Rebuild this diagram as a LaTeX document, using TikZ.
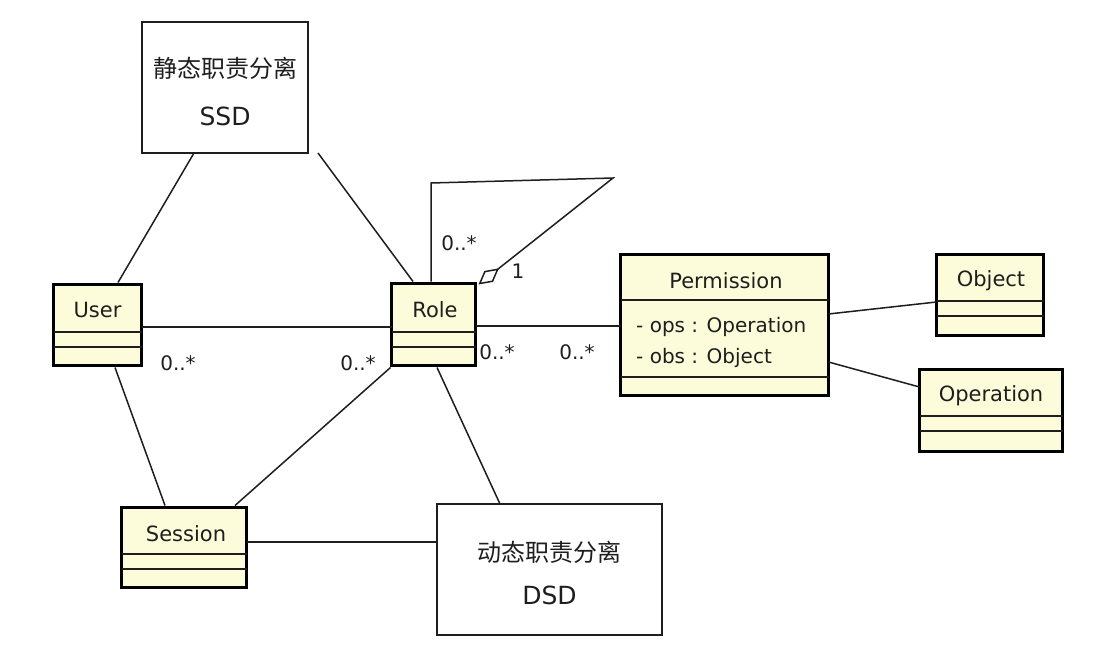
\documentclass[tikz,border=0pt]{standalone}
\usepackage{fontspec}
\setmainfont{DejaVu Sans}
\newfontfamily\cjk{Noto Sans CJK SC}
\usetikzlibrary{arrows.meta,calc}
\definecolor{clsfill}{RGB}{253,252,218}
\definecolor{ink}{RGB}{30,30,30}
\begin{document}
\begin{tikzpicture}[x=1pt,y=-1pt,
  classbox/.style={draw=black, line width=3.5pt, fill=clsfill, inner sep=0pt, outer sep=0pt},
  notebox/.style={draw=ink, line width=1.8pt, fill=white, inner sep=0pt, outer sep=0pt},
  conn/.style={line width=1.5pt, draw=ink},
  sepline/.style={line width=1.5pt, draw=ink},
  mult/.style={font=\fontsize{20}{20}\selectfont, text=ink, inner sep=0pt},
  cname/.style={font=\fontsize{21}{21}\selectfont, text=ink, inner sep=0pt},
  attr/.style={font=\fontsize{20}{20}\selectfont, text=ink, inner sep=0pt, anchor=west},
  cjktext/.style={font=\cjk\fontsize{24}{24}\selectfont, text=ink, inner sep=0pt},
  abbr/.style={font=\fontsize{25}{25}\selectfont, text=ink, inner sep=0pt}]
\useasboundingbox (0,0) rectangle (1110,666);

% note boxes
\node[notebox, minimum width=166, minimum height=131] (ssd) at (225,87.5) {};
\node[cjktext] (ssdcn) at (225,68) {静态职责分离};
\node[abbr] (ssden) at (225,116) {SSD};

\node[notebox, minimum width=225, minimum height=131] (dsd) at (549.5,569.5) {};
\node[cjktext] (dsdcn) at (549.5,552) {动态职责分离};
\node[abbr] (dsden) at (549.5,595) {DSD};

% class boxes
\node[classbox, minimum width=88, minimum height=81] (user) at (97.5,325) {};
\draw[sepline] (user.west |- 0,332) -- (user.east |- 0,332);
\draw[sepline] (user.west |- 0,347) -- (user.east |- 0,347);
\node[cname] (usert) at (97.5,310) {User};

\node[classbox, minimum width=84, minimum height=82] (role) at (433.5,324.5) {};
\draw[sepline] (role.west |- 0,332) -- (role.east |- 0,332);
\draw[sepline] (role.west |- 0,347) -- (role.east |- 0,347);
\node[cname] (rolet) at (435,310) {Role};

\node[classbox, minimum width=208, minimum height=141] (perm) at (724.5,325) {};
\draw[sepline] (perm.west |- 0,300) -- (perm.east |- 0,300);
\draw[sepline] (perm.west |- 0,377) -- (perm.east |- 0,377);
\node[cname] (permt) at (726,281) {Permission};
\node[attr] (perma1) at (636,327) {- ops : Operation};
\node[attr] (perma2) at (636,358) {- obs : Object};

\node[classbox, minimum width=107, minimum height=81] (object) at (990,295) {};
\draw[sepline] (object.west |- 0,301) -- (object.east |- 0,301);
\draw[sepline] (object.west |- 0,316) -- (object.east |- 0,316);
\node[cname] (objectt) at (991,281) {Object};

\node[classbox, minimum width=143, minimum height=82] (operation) at (991,410.5) {};
\draw[sepline] (operation.west |- 0,416) -- (operation.east |- 0,416);
\draw[sepline] (operation.west |- 0,431) -- (operation.east |- 0,431);
\node[cname] (operationt) at (991,396) {Operation};

\node[classbox, minimum width=125, minimum height=80] (session) at (184,547.5) {};
\draw[sepline] (session.west |- 0,554) -- (session.east |- 0,554);
\draw[sepline] (session.west |- 0,569) -- (session.east |- 0,569);
\node[cname] (sessiont) at (186,534) {Session};

% connectors
\draw[conn] ($(ssd.south)+(-31,0)$) -- ($(user.north)+(20.5,-2)$);
\draw[conn] ($(ssd.south)+(93,0)$) -- ($(role.north)+(-20.5,-2)$);
\draw[conn] (user.east |- 0,327) -- (role.west |- 0,327);
\draw[conn] ($(user.south)+(17.5,2)$) -- ($(session.north)+(-19,-2)$);
\draw[conn] ($(role.south west)+(-1,2)$) -- ($(session.north)+(51,-2)$);
\draw[conn] ($(role.south)+(3.5,2)$) -- ($(dsd.north)+(-49.5,0)$);
\draw[conn] (session.east |- 0,542) -- (dsd.west |- 0,542);
\draw[conn] (role.east |- 0,326) -- (perm.west |- 0,326);
\draw[conn] (perm.east |- 0,314) -- (object.west |- 0,302);
\draw[conn] (perm.east |- 0,362) -- (operation.west |- 0,387);
\coordinate (loopa) at (431,183);
\coordinate (loopb) at (613,178);
\draw[conn, -{Diamond[open, length=26pt, width=14pt]}]
  ($(role.north)+(-2.5,-2)$) -- (loopa) -- (loopb) -- ($(role.north east)+(3,1)$);

% multiplicities
\node[mult] (m1) at (178,363) {0..*};
\node[mult] (m2) at (358,363) {0..*};
\node[mult] (m3) at (497,352) {0..*};
\node[mult] (m4) at (577,352) {0..*};
\node[mult] (m5) at (459,243) {0..*};
\node[mult] (m6) at (518,271) {1};
\end{tikzpicture}
\end{document}
